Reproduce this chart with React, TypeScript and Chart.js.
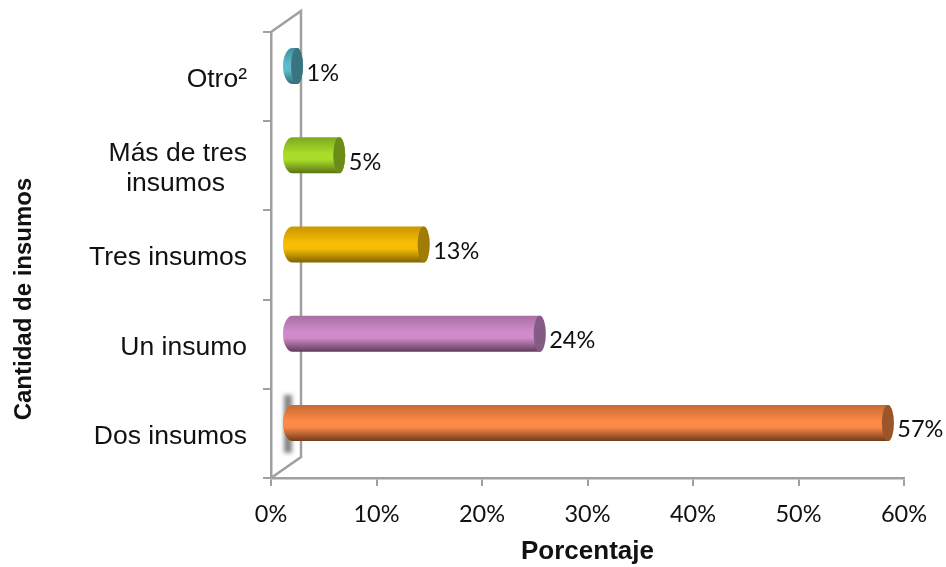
import React, { useEffect, useRef } from "react";
import { Chart, registerables } from "chart.js";

Chart.register(...registerables);

const categories: (string | string[])[] = [
  "Otro²",
  ["Más de tres", "insumos\u00a0\u00a0\u00a0"],
  "Tres insumos",
  "Un insumo",
  "Dos insumos",
];
const percentages = [1, 5, 13, 24, 57];
const faceTop = ["#3f8f9e", "#7fa81e", "#c89600", "#a86fa3", "#c76a33"];
const faceMid = ["#5cbccb", "#a9dd2a", "#f7bd04", "#d08bca", "#fc8a46"];
const faceBottom = ["#2f6c78", "#587413", "#7f6200", "#5e3d5b", "#703b1c"];
const capColor = ["#3a7480", "#6c8c1a", "#a07c06", "#855a84", "#9c5529"];

const AXIS_GREY = "#a0a0a0";
const DEPTH_X = 30;
const DEPTH_Y = 21;
const BAR_SHIFT_X = 15.5;
const BAR_SHIFT_Y = -10.5;
const CAP_RX = 6;
const START_RX = 9.5;
const START_INSET = 5;

const cylinderPlugin = {
  id: "cylinders",
  beforeDatasetsDraw(chart: Chart) {
    // Back wall of the 3D frame
    const { left, top, bottom } = chart.chartArea;
    const ctx = chart.ctx;
    ctx.save();
    ctx.strokeStyle = AXIS_GREY;
    ctx.lineWidth = 2.5;
    ctx.lineJoin = "miter";
    ctx.beginPath();
    ctx.moveTo(left, top);
    ctx.lineTo(left + DEPTH_X, top - DEPTH_Y);
    ctx.lineTo(left + DEPTH_X, bottom - DEPTH_Y);
    ctx.lineTo(left, bottom);
    ctx.stroke();

    // Vertical axis title sits level with the lower part of the frame
    ctx.translate(24, 299);
    ctx.rotate(-Math.PI / 2);
    ctx.fillStyle = "#111111";
    ctx.font = "bold 24px 'Liberation Sans'";
    ctx.textAlign = "center";
    ctx.textBaseline = "middle";
    ctx.fillText("Cantidad de insumos", 0, 0);
    ctx.restore();
  },
  afterDatasetsDraw(chart: Chart) {
    const ctx = chart.ctx;
    const bars = chart.getDatasetMeta(0).data as any[];
    bars.forEach((bar, i) => {
      const x0 = bar.base + BAR_SHIFT_X + START_INSET;
      const x1 = bar.x + BAR_SHIFT_X;
      const cy = bar.y + BAR_SHIFT_Y;
      const ry = bar.height / 2;

      ctx.save();
      if (i === bars.length - 1) {
        // Soft shadow behind the start of the longest bar
        ctx.save();
        ctx.filter = "blur(2px)";
        ctx.fillStyle = "rgba(110,110,110,0.85)";
        ctx.fillRect(x0 - START_RX + 1, cy - 28, 8, 58);
        ctx.restore();
      }

      const body = ctx.createLinearGradient(0, cy - ry, 0, cy + ry);
      body.addColorStop(0, faceTop[i]);
      body.addColorStop(0.45, faceMid[i]);
      body.addColorStop(0.62, faceMid[i]);
      body.addColorStop(1, faceBottom[i]);
      ctx.fillStyle = body;
      ctx.beginPath();
      ctx.ellipse(x0, cy, START_RX, ry, 0, Math.PI / 2, (Math.PI * 3) / 2);
      ctx.lineTo(x1, cy - ry);
      ctx.ellipse(x1, cy, CAP_RX, ry, 0, -Math.PI / 2, Math.PI / 2);
      ctx.closePath();
      ctx.fill();

      ctx.fillStyle = capColor[i];
      ctx.beginPath();
      ctx.ellipse(x1, cy, CAP_RX, ry, 0, 0, Math.PI * 2);
      ctx.fill();

      // Value label beside the bar end
      ctx.fillStyle = "#111111";
      ctx.font = "23.5px Lato";
      ctx.textAlign = "left";
      ctx.textBaseline = "middle";
      ctx.fillText(`${percentages[i]}%`, x1 + CAP_RX + 3.5, bar.y - 3.5);
      ctx.restore();
    });
  },
};

export default function App() {
  const ref = useRef<HTMLCanvasElement>(null);

  useEffect(() => {
    const chart = new Chart(ref.current!, {
      type: "bar",
      data: {
        labels: categories as any,
        datasets: [
          {
            data: percentages,
            backgroundColor: "rgba(0,0,0,0)",
            barThickness: 36,
          },
        ],
      },
      plugins: [cylinderPlugin],
      options: {
        indexAxis: "y",
        animation: false,
        responsive: false,
        layout: { padding: { top: 32, right: 42, left: 0, bottom: 0 } },
        plugins: { legend: { display: false }, tooltip: { enabled: false } },
        scales: {
          x: {
            min: 0,
            max: 60,
            ticks: {
              stepSize: 10,
              color: "#111111",
              padding: 14,
              maxRotation: 0,
              font: { family: "Lato", size: 23.5 },
              callback: (v: any) => `${v}%`,
            },
            grid: { drawOnChartArea: false, color: AXIS_GREY, lineWidth: 2, tickLength: 8 },
            border: { color: AXIS_GREY, width: 2.5 },
            title: {
              display: true,
              text: "Porcentaje",
              color: "#111111",
              font: { family: "Liberation Sans", size: 26, weight: "bold" },
              padding: { top: 8, bottom: 0 },
            },
            afterFit: (s: any) => {
              s.height = 89;
            },
          },
          y: {
            ticks: {
              color: "#111111",
              padding: 16,
              labelOffset: 3,
              autoSkip: false,
              font: { family: "Liberation Sans", size: 26.5, lineHeight: 1.14 },
            },
            grid: { drawOnChartArea: false, color: AXIS_GREY, lineWidth: 2, tickLength: 8 },
            border: { color: AXIS_GREY, width: 2.5 },
            afterFit: (s: any) => {
              s.width = 271;
            },
          },
        },
      } as any,
    });
    return () => chart.destroy();
  }, []);

  return (
    <div style={{ position: "absolute", left: 0, top: 0, width: 946, height: 567, background: "#fff" }}>
      <canvas ref={ref} width={946} height={567} style={{ display: "block" }} />
    </div>
  );
}
